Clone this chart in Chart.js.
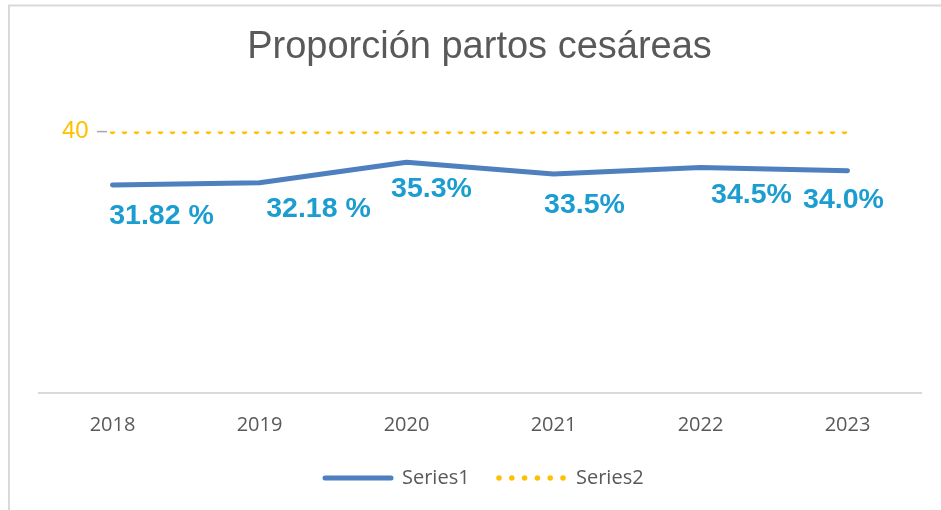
<!DOCTYPE html>
<html>
<head>
<meta charset="utf-8">
<script src="https://cdn.jsdelivr.net/npm/chart.js@4.4.0/dist/chart.umd.min.js"></script>
<style>
  html, body { margin: 0; padding: 0; background: #fff; }
  #wrap { width: 941px; height: 510px; position: relative; }
</style>
</head>
<body>
<div id="wrap"><canvas id="myChart"></canvas></div>
<script>
// Chart data
const years = ["2018", "2019", "2020", "2021", "2022", "2023"];
const series1 = [31.82, 32.18, 35.3, 33.5, 34.5, 34.0];
const series2 = [40, 40, 40, 40, 40, 40];
const pointLabels = ["31.82 %", "32.18 %", "35.3%", "33.5%", "34.5%", "34.0%"];
const yTicks = [40];

const blue = "#4E7FBE";
const gold = "#FFC000";
const grey = "#595959";

// data labels sit below / to the right of the points, as in the original
const labelPlugin = {
    id: "pointLabels",
    afterDatasetsDraw(chart, args, opts) {
        const ctx = chart.ctx;
        const meta = chart.getDatasetMeta(0);
        ctx.save();
        ctx.font = "bold 28.5px 'Liberation Sans', Arial, sans-serif";
        ctx.fillStyle = "#1B9DD0";
        ctx.textAlign = "center";
        ctx.textBaseline = "middle";
        meta.data.forEach((pt, i) => {
            ctx.fillText(pointLabels[i], pt.x + opts.dx[i], pt.y + opts.dy[i]);
        });
        ctx.restore();
    }
};

// frame, the small tick on the value axis and the legend
const extrasPlugin = {
    id: "extras",
    beforeDraw(chart) {
        const ctx = chart.ctx;
        ctx.save();
        ctx.strokeStyle = "#D9D9D9";
        ctx.lineWidth = 2;
        ctx.beginPath();
        ctx.moveTo(9, 510);
        ctx.lineTo(9, 5.5);
        ctx.lineTo(941, 5.5);
        ctx.stroke();
        ctx.restore();
    },
    afterDraw(chart) {
        const ctx = chart.ctx;
        const yScale = chart.scales.y;
        ctx.save();
        // tick mark next to "40"
        yTicks.forEach(v => {
            const y = yScale.getPixelForValue(v);
            ctx.strokeStyle = "#A6A6A6";
            ctx.lineWidth = 1.5;
            ctx.beginPath();
            ctx.moveTo(97, y);
            ctx.lineTo(107, y);
            ctx.stroke();
        });

        // legend
        const ly = 478;
        ctx.lineCap = "round";
        ctx.strokeStyle = blue;
        ctx.lineWidth = 5;
        ctx.beginPath();
        ctx.moveTo(325, ly);
        ctx.lineTo(391, ly);
        ctx.stroke();

        ctx.strokeStyle = gold;
        ctx.lineWidth = 5.5;
        ctx.setLineDash([0, 12.8]);
        ctx.beginPath();
        ctx.moveTo(499, ly);
        ctx.lineTo(564, ly);
        ctx.stroke();
        ctx.setLineDash([]);

        ctx.font = "20px 'Open Sans', sans-serif";
        ctx.fillStyle = grey;
        ctx.textAlign = "left";
        ctx.textBaseline = "middle";
        ctx.fillText(chart.data.datasets[0].label, 402, ly);
        ctx.fillText(chart.data.datasets[1].label, 576, ly);
        ctx.restore();
    }
};

const config = {
    type: "line",
    data: {
        labels: years,
        datasets: [{
            label: "Series1",
            data: series1,
            borderColor: blue,
            borderWidth: 5,
            borderCapStyle: "round",
            borderJoinStyle: "round",
            pointRadius: 0,
            tension: 0,
            fill: false
        }, {
            label: "Series2",
            data: series2,
            borderColor: gold,
            borderWidth: 5.5,
            borderDash: [0, 12],
            borderCapStyle: "round",
            pointRadius: 0,
            tension: 0,
            fill: false
        }]
    },
    options: {
        responsive: false,
        animation: false,
        layout: {
            padding: { left: 38, right: 20, top: 0, bottom: 0 }
        },
        plugins: {
            legend: { display: false },
            tooltip: { enabled: false },
            title: {
                display: true,
                text: "Proporción partos cesáreas",
                color: grey,
                font: { family: "'Liberation Sans', Arial, sans-serif", size: 38, weight: "normal", lineHeight: 1.2 },
                padding: { top: 25, bottom: 61 }
            },
            pointLabels: {
                dx: [49, 59, 25, 31, 51, -4],
                dy: [31, 26, 27, 31, 28, 29]
            }
        },
        scales: {
            x: {
                offset: true,
                grid: { display: false, drawTicks: false },
                border: { display: true, color: "#D9D9D9", width: 2 },
                ticks: {
                    color: grey,
                    padding: 20,
                    font: { family: "'Open Sans', sans-serif", size: 20 }
                },
                afterFit: s => { s.height = 117; }
            },
            y: {
                min: 0,
                max: 40,
                grid: { display: false, drawTicks: false },
                border: { display: false },
                afterBuildTicks: s => { s.ticks = yTicks.map(v => ({ value: v })); },
                ticks: {
                    mirror: true,
                    padding: 23,
                    color: gold,
                    font: { family: "'Liberation Sans', Arial, sans-serif", size: 24 }
                },
                afterFit: s => { s.width = 1; }
            }
        }
    },
    plugins: [labelPlugin, extrasPlugin]
};

const canvas = document.getElementById("myChart");
canvas.width = 941;
canvas.height = 510;
const myChart = new Chart(canvas, config);
</script>
</body>
</html>
